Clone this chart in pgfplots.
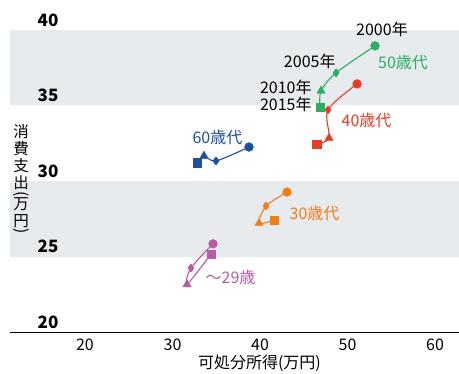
\documentclass[border=0pt]{standalone}
\usepackage{fontspec}
\setmainfont{Noto Sans CJK JP}
\usepackage{graphicx}
\usepackage{pgfplots}
\pgfplotsset{compat=1.18}
\definecolor{cblue}{HTML}{1E4FA0}
\definecolor{cgreen}{HTML}{2AAE62}
\definecolor{cred}{HTML}{E83A26}
\definecolor{corange}{HTML}{EF7D1A}
\definecolor{cpurple}{HTML}{B65BA6}
\definecolor{band}{HTML}{E8EBEE}
\newcommand{\lf}{\fontsize{16bp}{18bp}\selectfont}
\pgfplotstableread{
x y
38.74 32.25
34.97 31.33
33.60 31.66
32.80 31.20
}\tsixty
\pgfplotstableread{
x y
53.14 38.95
48.69 37.16
46.97 35.97
46.86 34.90
}\tfifty
\pgfplotstableread{
x y
51.09 36.43
47.77 34.71
47.89 32.85
46.50 32.45
}\tforty
\pgfplotstableread{
x y
43.09 29.27
40.69 28.34
39.89 27.21
41.60 27.41
}\tthirty
\pgfplotstableread{
x y
34.63 25.84
32.11 24.24
31.66 23.15
34.40 25.17
}\ttwenty
\newcommand{\series}[2]{%
  \addplot[#2, line width=1.1bp, smooth, no marks] table {#1};
  \addplot[#2, only marks, mark=*, mark size=4.4bp, mark indices={1}] table {#1};
  \addplot[#2, only marks, mark=diamond*, mark size=4.2bp, mark indices={2}] table {#1};
  \addplot[#2, only marks, mark=triangle*, mark size=4.8bp, mark indices={3}] table {#1};
  \addplot[#2, only marks, mark=square*, mark size=4.2bp, mark indices={4}] table {#1};
}
\begin{document}
\begin{tikzpicture}
\begin{axis}[
  at={(0,0)}, anchor=south west,
  scale only axis, width=449bp, height=302bp,
  xmin=11.43, xmax=62.74, ymin=20, ymax=40,
  clip=false, axis on top,
  axis x line*=bottom, axis y line*=left,
  x axis line style={-, black, line width=0.9bp},
  y axis line style={draw=none},
  major tick length=0pt,
  xtick={20,30,40,50,60}, ytick={20,25,30,35,40},
  /pgf/number format/assume math mode=true,
  xticklabel style={font=\fontsize{16bp}{18bp}\selectfont, yshift=-3.5bp},
  yticklabel style={font=\fontsize{17bp}{18bp}\selectfont\bfseries, anchor=center, xshift=38bp, yshift=10bp},
]
\fill[band] (axis cs:11.43,25) rectangle (axis cs:62.74,30);
\fill[band] (axis cs:11.43,35) rectangle (axis cs:62.74,40);

\series{\tsixty}{cblue}
\series{\tfifty}{cgreen}
\series{\tforty}{cred}
\series{\tthirty}{corange}
\series{\ttwenty}{cpurple}

\node[font=\lf] at (axis cs:53.94,40.03) {2000年};
\node[font=\lf, anchor=east] at (axis cs:49.03,37.9) {2005年};
\node[font=\lf, anchor=east] at (axis cs:46.29,36.18) {2010年};
\node[font=\lf, anchor=east] at (axis cs:46.29,35.05) {2015年};
\node[font=\lf, text=cgreen] at (axis cs:56.34,37.87) {50歳代};
\node[font=\lf, text=cred] at (axis cs:52.17,34.03) {40歳代};
\node[font=\lf, text=cblue] at (axis cs:35.14,32.9) {60歳代};
\node[font=\lf, text=corange] at (axis cs:46.23,27.82) {30歳代};
\node[font=\lf, text=cpurple] at (axis cs:36.63,23.58) {〜29歳};

\node[font=\lf, inner sep=1pt] at (axis cs:39.94,17.92) {可処分所得(万円)};
\node[font=\fontsize{15.5bp}{17bp}\selectfont, align=center, inner sep=0pt] at (axis cs:12.69,30.1)
  {消\\費\\支\\出\\[-14.5bp]\rotatebox{-90}{(}\\万\\円\\[-14.5bp]\rotatebox{-90}{)}};
\end{axis}
\pgfresetboundingbox
\path[use as bounding box] (-10bp,-42bp) rectangle (449bp,332bp);
\end{tikzpicture}
\end{document}
